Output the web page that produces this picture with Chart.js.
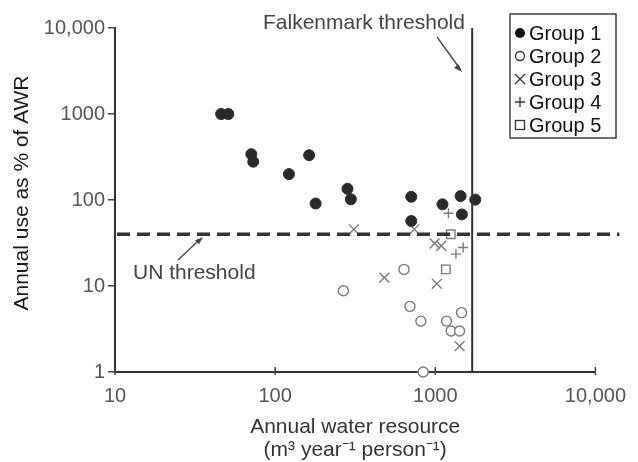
<!DOCTYPE html>
<html>
<head>
<meta charset="utf-8">
<script src="https://cdn.jsdelivr.net/npm/chart.js"></script>
<style>
  html, body { margin: 0; padding: 0; background: #fff; }
  #mychart { display: block; }
</style>
</head>
<body>
<canvas id="mychart" width="638" height="462"></canvas>
<script>
// values (log-log axes)
const group1X = [46, 51, 71, 73, 122, 163, 179, 283, 297, 708, 708, 1109, 1439, 1466, 1778]
const group1Y = [1000, 1000, 341, 279, 200, 332, 91, 135, 102, 109, 57, 89, 111, 68, 101]
const group2X = [267, 638, 695, 813, 840, 1175, 1255, 1418, 1459]
const group2Y = [8.8, 15.6, 5.8, 3.9, 1, 3.9, 3.0, 3.0, 4.9]
const group3X = [310, 740, 481, 991, 1089, 1023, 1418]
const group3Y = [45.6, 45.6, 12.5, 31.2, 29.4, 10.6, 2.0]
const group4X = [1208, 1346, 1493]
const group4Y = [70, 23.5, 28]
const group5X = [1250, 1164]
const group5Y = [40, 15.6]

const groupNames = ['Group 1', 'Group 2', 'Group 3', 'Group 4', 'Group 5']

const xTickValues = [10, 100, 1000, 10000]
const xTickLabels = ['10', '100', '1000', '10,000']
const yTickValues = [1, 10, 100, 1000, 10000]
const yTickLabels = ['1', '10', '100', '1000', '10,000']

const unThreshold = 40
const falkenmarkThreshold = 1700

const FONT = "'Liberation Sans', Arial, Helvetica, sans-serif"
Chart.defaults.font.family = FONT

function pts(xs, ys) {
    return xs.map((x, i) => ({ x: x, y: ys[i] }))
}

function marker(ctx, style, x, y) {
    ctx.save()
    ctx.lineWidth = 1.3
    ctx.strokeStyle = '#333'
    ctx.fillStyle = '#111'
    if (style === 'dot') {
        ctx.beginPath(); ctx.arc(x, y, 5, 0, Math.PI * 2); ctx.fill()
    } else if (style === 'ring') {
        ctx.beginPath(); ctx.arc(x, y, 4.5, 0, Math.PI * 2); ctx.stroke()
    } else if (style === 'x') {
        ctx.beginPath(); ctx.moveTo(x - 5, y - 5); ctx.lineTo(x + 5, y + 5)
        ctx.moveTo(x + 5, y - 5); ctx.lineTo(x - 5, y + 5); ctx.stroke()
    } else if (style === 'plus') {
        ctx.beginPath(); ctx.moveTo(x - 5, y); ctx.lineTo(x + 5, y)
        ctx.moveTo(x, y - 5); ctx.lineTo(x, y + 5); ctx.stroke()
    } else {
        ctx.strokeRect(x - 4.5, y - 4.5, 9, 9)
    }
    ctx.restore()
}

const annotations = {
    id: 'annotations',
    afterDatasetsDraw(chart) {
        const ctx = chart.ctx
        const xs = chart.scales.x
        const ys = chart.scales.y
        const area = chart.chartArea
        ctx.save()

        // inward tick marks on x axis
        ctx.strokeStyle = '#444'
        ctx.lineWidth = 1.5
        xTickValues.forEach(v => {
            const px = xs.getPixelForValue(v)
            ctx.beginPath(); ctx.moveTo(px, area.bottom + 3); ctx.lineTo(px, area.bottom - 5); ctx.stroke()
        })

        // UN threshold dashed line
        const yUn = ys.getPixelForValue(unThreshold)
        ctx.strokeStyle = '#333'
        ctx.lineWidth = 3.5
        ctx.setLineDash([13, 7])
        ctx.beginPath(); ctx.moveTo(area.left + 2, yUn); ctx.lineTo(area.right + 24, yUn); ctx.stroke()
        ctx.setLineDash([])

        // Falkenmark threshold vertical line
        const xF = xs.getPixelForValue(falkenmarkThreshold)
        ctx.lineWidth = 2
        ctx.strokeStyle = '#333'
        ctx.beginPath(); ctx.moveTo(xF, area.top); ctx.lineTo(xF, area.bottom); ctx.stroke()

        // labels and arrows
        ctx.fillStyle = '#444'
        ctx.font = '21px ' + FONT
        ctx.textBaseline = 'middle'
        ctx.textAlign = 'left'
        ctx.fillText('Falkenmark threshold', 263, 23)
        ctx.fillText('UN threshold', 133, 273)

        ctx.lineWidth = 1.3
        ctx.strokeStyle = '#444'
        ctx.beginPath(); ctx.moveTo(437, 37); ctx.lineTo(xF - 12, 69); ctx.stroke()
        ctx.beginPath(); ctx.moveTo(178, 260); ctx.lineTo(200, yUn + 5); ctx.stroke()
        ctx.fillStyle = '#444'
        ctx.beginPath(); ctx.moveTo(xF - 10, 72); ctx.lineTo(xF - 18, 68); ctx.lineTo(xF - 14, 64); ctx.fill()
        ctx.beginPath(); ctx.moveTo(203, yUn + 3); ctx.lineTo(195, yUn + 6); ctx.lineTo(199, yUn + 10); ctx.fill()

        // y axis title
        ctx.save()
        ctx.translate(22, 193)
        ctx.rotate(-Math.PI / 2)
        ctx.textAlign = 'center'
        ctx.fillStyle = '#1a1a1a'
        ctx.font = '21px ' + FONT
        ctx.fillText('Annual use as % of AWR', 0, 0)
        ctx.restore()

        // legend box
        const lx = 510, ly = 14, lw = 106, lh = 124
        ctx.fillStyle = '#fff'
        ctx.fillRect(lx, ly, lw, lh)
        ctx.strokeStyle = '#222'
        ctx.lineWidth = 1.3
        ctx.strokeRect(lx, ly, lw, lh)
        const styles = ['dot', 'ring', 'x', 'plus', 'square']
        ctx.font = '20px ' + FONT
        groupNames.forEach((name, i) => {
            const cy = ly + 19 + i * 23
            marker(ctx, styles[i], lx + 10, cy)
            ctx.fillStyle = '#111'
            ctx.fillText(name, lx + 19, cy + 1)
        })
        ctx.restore()
    }
}

const openColor = '#7a7a7a'

const ctx = document.getElementById('mychart')
var chart = new Chart(ctx, {
    type: 'scatter',
    data: {
        datasets: [{
            label: groupNames[0],
            data: pts(group1X, group1Y),
            pointStyle: 'circle',
            pointRadius: 5.5,
            backgroundColor: '#2a2a2a',
            borderColor: '#2a2a2a',
            clip: false
        }, {
            label: groupNames[1],
            data: pts(group2X, group2Y),
            pointStyle: 'circle',
            pointRadius: 5,
            backgroundColor: '#fff',
            borderColor: openColor,
            borderWidth: 1.4,
            clip: false
        }, {
            label: groupNames[2],
            data: pts(group3X, group3Y),
            pointStyle: 'crossRot',
            pointRadius: 7,
            borderColor: openColor,
            borderWidth: 1.4,
            clip: false
        }, {
            label: groupNames[3],
            data: pts(group4X, group4Y),
            pointStyle: 'cross',
            pointRadius: 5,
            borderColor: openColor,
            borderWidth: 1.4,
            clip: false
        }, {
            label: groupNames[4],
            data: pts(group5X, group5Y),
            pointStyle: 'rect',
            pointRadius: 6,
            backgroundColor: 'rgba(0,0,0,0)',
            borderColor: openColor,
            borderWidth: 1.4,
            clip: false
        }]
    },
    options: {
        responsive: false,
        animation: false,
        layout: {
            padding: { top: 28, right: 35, left: 0, bottom: 0 }
        },
        plugins: {
            legend: { display: false },
            tooltip: { enabled: false }
        },
        scales: {
            x: {
                type: 'logarithmic',
                min: 10,
                max: 10000,
                afterBuildTicks: s => { s.ticks = xTickValues.map(v => ({ value: v })) },
                afterFit: s => { s.height = 90 },
                grid: {
                    drawOnChartArea: false,
                    drawTicks: false
                },
                border: { color: '#333', width: 2 },
                ticks: {
                    padding: 12,
                    color: '#555',
                    maxRotation: 0,
                    font: { size: 20 },
                    callback: (v, i) => xTickLabels[i]
                },
                title: {
                    display: true,
                    text: ['Annual water resource', '(m\u00b3 year\u207b\u00b9 person\u207b\u00b9)'],
                    color: '#333',
                    padding: { top: 0, bottom: 0 },
                    font: { size: 21, lineHeight: 1.1 }
                }
            },
            y: {
                type: 'logarithmic',
                min: 1,
                max: 10000,
                afterBuildTicks: s => { s.ticks = yTickValues.map(v => ({ value: v })) },
                afterFit: s => { s.width = 115 },
                grid: {
                    drawOnChartArea: false,
                    drawTicks: true,
                    tickLength: 7,
                    color: '#444',
                    lineWidth: 1.5
                },
                border: { color: '#333', width: 2 },
                ticks: {
                    padding: 3,
                    color: '#555',
                    font: { size: 20 },
                    callback: (v, i) => yTickLabels[i]
                },
                title: { display: false }
            }
        }
    },
    plugins: [annotations]
});
</script>
</body>
</html>
